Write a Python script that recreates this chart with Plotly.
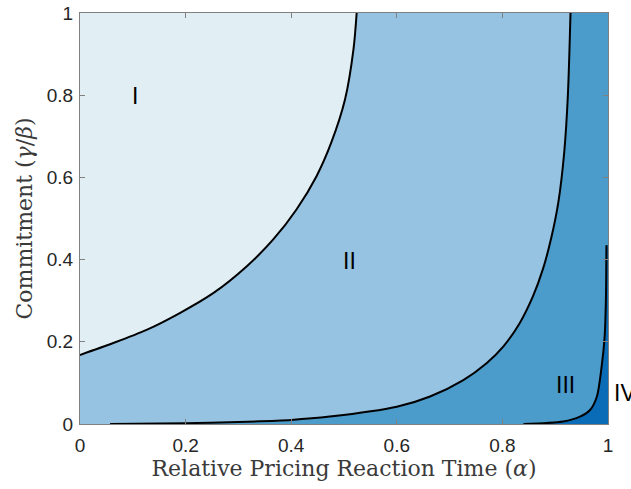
import plotly.graph_objects as go

# Boundary I / II
b1_alpha = [0.0, 0.063, 0.126, 0.189, 0.253, 0.316, 0.366, 0.410, 0.448, 0.476, 0.502, 0.518, 0.524]
b1_commit = [0.168, 0.197, 0.229, 0.270, 0.319, 0.384, 0.449, 0.522, 0.603, 0.685, 0.790, 0.912, 1.0]

# Boundary II / III
b2_alpha = [0.057, 0.2, 0.3, 0.4, 0.473, 0.6, 0.663, 0.726, 0.770, 0.802, 0.833, 0.858, 0.877,
            0.892, 0.906, 0.917, 0.924, 0.929]
b2_commit = [0.0, 0.002, 0.005, 0.010, 0.018, 0.042, 0.067, 0.107, 0.148, 0.189, 0.246, 0.311, 0.378,
             0.450, 0.540, 0.660, 0.800, 1.0]

# Boundary III / IV
b3_alpha = [0.840, 0.915, 0.947, 0.966, 0.979, 0.988, 0.9935, 0.996, 0.997]
b3_commit = [0.0, 0.006, 0.018, 0.034, 0.067, 0.140, 0.210, 0.300, 0.435]

region_labels = ["I", "II", "III", "IV"]
label_alpha = [0.104, 0.511, 0.919, 1.008]
label_commit = [0.798, 0.397, 0.096, 0.075]

tick_vals = [0, 0.2, 0.4, 0.6, 0.8, 1]
tick_text = ["0", "0.2", "0.4", "0.6", "0.8", "1"]

C1 = "#e1eff5"
C2 = "#97c3e2"
C3 = "#4b9bcb"
C4 = "#0a6bb6"

SANS = "Liberation Sans, Arial, sans-serif"
SERIF = "DejaVu Serif, serif"

fig = go.Figure()

# Region I: fill from boundary I to the left edge
fig.add_trace(go.Scatter(x=b1_alpha, y=b1_commit, mode="lines", line=dict(width=0, shape="spline", smoothing=0.8),
                         fill="tozerox", fillcolor=C1, hoverinfo="skip", showlegend=False))

# Region III: between boundary II/III and right edge
fig.add_trace(go.Scatter(x=[1, 1], y=[0, 1], mode="lines", line=dict(width=0), hoverinfo="skip", showlegend=False))
fig.add_trace(go.Scatter(x=b2_alpha, y=b2_commit, mode="lines", line=dict(width=0, shape="spline", smoothing=0.8),
                         fill="tonextx", fillcolor=C3, hoverinfo="skip", showlegend=False))

# Region IV: between boundary III/IV and right edge
fig.add_trace(go.Scatter(x=[1, 1], y=[0, b3_commit[-1]], mode="lines", line=dict(width=0), hoverinfo="skip",
                         showlegend=False))
fig.add_trace(go.Scatter(x=b3_alpha, y=b3_commit, mode="lines", line=dict(width=0, shape="spline", smoothing=0.8),
                         fill="tonextx", fillcolor=C4, hoverinfo="skip", showlegend=False))

# Boundary lines
for xs, ys in [(b1_alpha, b1_commit), (b2_alpha, b2_commit), (b3_alpha, b3_commit)]:
    fig.add_trace(go.Scatter(x=xs, y=ys, mode="lines",
                             line=dict(color="black", width=2, shape="spline", smoothing=0.8),
                             hoverinfo="skip", showlegend=False))

for t, xa, ya in zip(region_labels, label_alpha, label_commit):
    fig.add_annotation(x=xa, y=ya, xref="paper" if t == "IV" else "x", yref="y", text=t, showarrow=False,
                       xanchor="left" if t == "IV" else "center",
                       font=dict(family=SANS, size=23, color="black"))

axis_common = dict(
    range=[0, 1], tickvals=tick_vals, ticktext=tick_text,
    ticks="inside", ticklen=5, tickcolor="#808080", tickwidth=1,
    showline=True, linecolor="#808080", linewidth=1, mirror="ticks",
    showgrid=False, zeroline=False, automargin=False,
    tickfont=dict(family=SANS, size=19, color="#262626"),
)

fig.update_xaxes(**axis_common, ticklabelstandoff=4,
                 title=dict(text="Relative Pricing Reaction Time (<i>α</i>)",
                            font=dict(family=SERIF, size=22, color="#3a3a3a"),
                            standoff=5))
fig.update_yaxes(**axis_common, ticklabelstandoff=2,
                 title=dict(text="Commitment (<i>γ</i>/<i>β</i>)",
                            font=dict(family=SERIF, size=22, color="#3a3a3a"),
                            standoff=8))

fig.update_layout(
    width=631, height=489,
    margin=dict(l=80, r=23, t=13, b=65),
    plot_bgcolor=C2, paper_bgcolor="white",
)

fig.write_html("out.html", config={"displayModeBar": False},
               post_script="document.body.style.margin='0';")
